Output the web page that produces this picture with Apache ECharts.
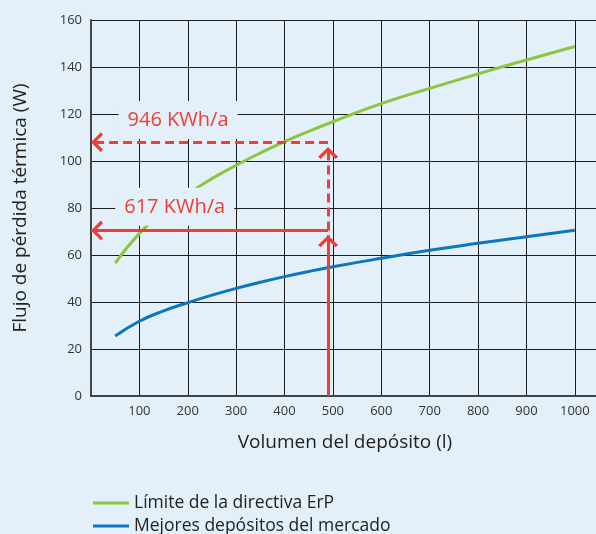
<!DOCTYPE html>
<html>
<head>
<meta charset="utf-8">
<script src="https://cdn.jsdelivr.net/npm/echarts@6/dist/echarts.min.js"></script>
<style>
  html, body { margin: 0; padding: 0; background: #e3eff9; }
  #chart { width: 596px; height: 534px; }
</style>
</head>
<body>
<div id="chart"></div>
<script>
// volumen del depósito (l)
var volumes = [50, 100, 150, 200, 250, 300, 350, 400, 450, 500, 600, 700, 800, 900, 1000];
// pérdida térmica (W)
var erpLimit = [56.5, 69.2, 78.4, 86.0, 92.5, 98.2, 103.4, 108.2, 112.6, 116.7, 124.4, 130.9, 137.1, 143.0, 148.7];
var bestTanks = [25.5, 31.8, 36.2, 39.7, 42.9, 45.8, 48.4, 50.8, 53.0, 55.0, 58.6, 62.0, 65.0, 67.8, 70.5];

var seriesNames = ['Límite de la directiva ErP', 'Mejores depósitos del mercado'];
var seriesColors = ['#8cc63f', '#0a77c2'];

// flechas rojas
var markVolume = 490;
var lossBest = 70.4;   // 617 KWh/a
var lossErp = 108;     // 946 KWh/a
var energyLabels = ['617 KWh/a', '946 KWh/a'];

var red = '#ee3e36';
var bg = '#e3eff9';
var font = 'Open Sans';
var chevron = 'path://M0,10 L10,0 L20,10 L17.4,12.2 L10,4.6 L2.6,12.2 Z';

function pairs(xs, ys) {
    var out = [];
    for (var i = 0; i < xs.length; i++) out.push([xs[i], ys[i]]);
    return out;
}

var myChart = echarts.init(document.getElementById('chart'));
var option = {
    backgroundColor: bg,
    animation: false,
    textStyle: { fontFamily: font },
    grid: { left: 91, right: -3, top: 20, bottom: 138, outerBoundsMode: 'none' },
    legend: {
        data: seriesNames,
        orient: 'vertical',
        left: 88,
        top: 489,
        height: 60,
        icon: 'rect',
        itemWidth: 36,
        itemHeight: 3,
        itemGap: 5,
        textStyle: { fontSize: 17.5, color: '#222', fontFamily: font }
    },
    xAxis: {
        type: 'value',
        min: 0,
        max: 1050,
        interval: 100,
        name: 'Volumen del depósito (l)',
        nameLocation: 'middle',
        nameGap: 37,
        nameTextStyle: { fontSize: 19, color: '#222' },
        axisLine: { show: true, lineStyle: { color: '#444', width: 2 } },
        axisTick: { show: false },
        axisLabel: {
            fontSize: 13, color: '#333', margin: 9,
            formatter: function (v) { return (v > 0 && v <= 1000) ? v : ''; }
        },
        splitLine: { show: true, lineStyle: { color: '#1c1c1c', width: 1 } }
    },
    yAxis: {
        type: 'value',
        min: 0,
        max: 160,
        interval: 20,
        name: 'Flujo de pérdida térmica (W)',
        nameLocation: 'middle',
        nameGap: 61,
        nameTextStyle: { fontSize: 19, color: '#222' },
        axisLine: { show: true, lineStyle: { color: '#444', width: 2 } },
        axisTick: { show: false },
        axisLabel: { fontSize: 13, color: '#333', margin: 9 },
        splitLine: { show: true, lineStyle: { color: '#1c1c1c', width: 1 } }
    },
    series: [
        {
            name: seriesNames[0],
            type: 'line',
            smooth: true,
            symbol: 'none',
            z: 2,
            lineStyle: { color: seriesColors[0], width: 3 },
            itemStyle: { color: seriesColors[0] },
            data: pairs(volumes, erpLimit)
        },
        {
            name: seriesNames[1],
            type: 'line',
            smooth: true,
            symbol: 'none',
            z: 2,
            lineStyle: { color: seriesColors[1], width: 3 },
            itemStyle: { color: seriesColors[1] },
            data: pairs(volumes, bestTanks)
        },
        { // flechas continuas + etiquetas
            type: 'line',
            data: [],
            z: 5,
            markLine: {
                silent: true,
                symbol: ['none', chevron],
                symbolSize: [20, 12],
                symbolOffset: [0, [0, 6]],
                label: { show: false },
                lineStyle: { color: red, width: 3, type: 'solid' },
                emphasis: { disabled: true },
                data: [
                    [{ coord: [markVolume, 0] }, { coord: [markVolume, lossBest - 2] }],
                    [{ coord: [markVolume, lossBest] }, { coord: [0, lossBest] }]
                ]
            },
            markPoint: {
                silent: true,
                symbol: 'rect',
                symbolSize: 0,
                label: {
                    show: true,
                    position: 'inside',
                    color: red,
                    fontSize: 20,
                    fontFamily: font,
                    backgroundColor: bg,
                    padding: [9, 9, 9, 9],
                    formatter: '{b}'
                },
                data: [
                    { name: energyLabels[0], coord: [173, 80.5] },
                    { name: energyLabels[1], coord: [180, 117.5] }
                ]
            }
        },
        { // flechas discontinuas
            type: 'line',
            data: [],
            z: 5,
            markLine: {
                silent: true,
                symbol: ['none', chevron],
                symbolSize: [20, 12],
                symbolOffset: [0, [0, 6]],
                label: { show: false },
                lineStyle: { color: red, width: 3, type: [9, 5] },
                emphasis: { disabled: true },
                data: [
                    [{ coord: [markVolume, lossBest] }, { coord: [markVolume, lossErp - 2] }],
                    [{ coord: [markVolume, lossErp] }, { coord: [0, lossErp] }]
                ]
            }
        }
    ]
};
myChart.setOption(option);
</script>
</body>
</html>
